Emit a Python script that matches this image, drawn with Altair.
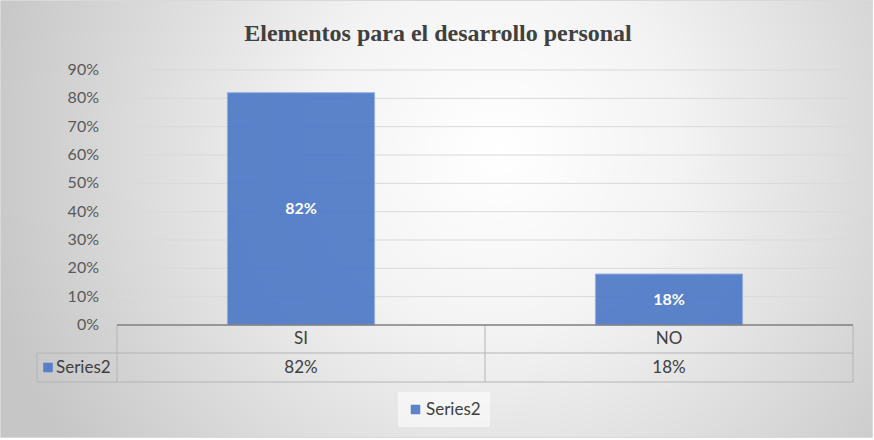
import altair as alt
import pandas as pd

# Datos del gráfico
categorias = ["SI", "NO"]
porcentajes = [0.82, 0.18]
serie = "Series2"
marcas_y = [0.0, 0.1, 0.2, 0.3, 0.4, 0.5, 0.6, 0.7, 0.8, 0.9]

# Geometría general (área de trazado y márgenes)
TOTAL_W, TOTAL_H = 874, 440
IZQ, ARR, DER, ABA = 117, 70, 21, 115
ANCHO = TOTAL_W - IZQ - DER
ALTO = TOTAL_H - ARR - ABA
FILA1 = 283   # línea entre fila de categorías y fila de valores
FILA2 = 312   # borde inferior de la tabla de datos
COL0 = -80    # borde izquierdo de la tabla de datos

AZUL = "#4a77c6"
FUENTE = "Lato"
GRIS_TXT = "#404040"
GRIS_EJE = "#595959"
GRIS_TABLA = "#b4b4b4"
TAM = 17

datos = pd.DataFrame({
    "categoria": categorias,
    "valor": porcentajes,
    "serie": [serie] * len(categorias),
})
rejilla = pd.DataFrame({"marca": marcas_y})
una_fila = pd.DataFrame({"serie": [serie]})

escala_y = alt.Scale(domain=[0, 0.9], nice=False)
escala_x = alt.Scale(domain=categorias, paddingInner=0, paddingOuter=0)
x_cat = alt.X("categoria:N", sort=categorias, scale=escala_x, axis=None)

# Fondo con degradado radial
fondo = alt.Chart(una_fila).mark_rect(
    fill=alt.RadialGradient(
        gradient="radial",
        stops=[
            alt.GradientStop(offset=0, color="#ffffff"),
            alt.GradientStop(offset=0.35, color="#f3f3f3"),
            alt.GradientStop(offset=1, color="#c6c6c6"),
        ],
        x1=0.57, y1=0.42, r1=0,
        x2=0.57, y2=0.42, r2=0.6,
    ),
    stroke="#d9d9d9",
    strokeWidth=1,
).encode(
    x=alt.value(-IZQ + 0.5),
    x2=alt.value(TOTAL_W - IZQ - 1.5),
    y=alt.value(-ARR + 0.5),
    y2=alt.value(TOTAL_H - ARR - 2.5),
)

# Líneas horizontales de la cuadrícula
lineas = alt.Chart(rejilla).transform_filter("datum.marca > 0").mark_rule(
    color="#d9d9d9", strokeWidth=1
).encode(y=alt.Y("marca:Q", scale=escala_y, axis=None))

# Etiquetas del eje vertical
etiquetas_y = alt.Chart(rejilla).mark_text(
    font=FUENTE, fontSize=16, color=GRIS_EJE, align="right", baseline="middle"
).encode(
    y=alt.Y("marca:Q", scale=escala_y, axis=None),
    x=alt.value(-18),
    text=alt.Text("marca:Q", format=".0%"),
)

# Barras
barras = alt.Chart(datos).mark_bar(
    width=alt.RelativeBandSize(0.4),
    opacity=0.9,
    stroke="#8eaadb",
    strokeWidth=1,
).encode(
    x=x_cat,
    y=alt.Y("valor:Q", scale=escala_y, axis=None),
    color=alt.Color(
        "serie:N",
        scale=alt.Scale(range=[AZUL]),
        legend=alt.Legend(
            title=None,
            orient="none",
            legendX=281,
            legendY=322,
            direction="horizontal",
            symbolType="square",
            symbolSize=90,
            symbolStrokeWidth=0,
            symbolOpacity=0.9,
            labelFont=FUENTE,
            labelFontSize=TAM,
            labelColor=GRIS_TXT,
            labelOffset=2,
            fillColor="rgba(255,255,255,0.55)",
            padding=9,
        ),
    ),
)

# Etiquetas de valor dentro de las barras
etiquetas = alt.Chart(datos).transform_calculate(
    medio="datum.valor / 2"
).mark_text(
    font=FUENTE, fontSize=16, fontWeight="bold", color="white"
).encode(
    x=x_cat,
    y=alt.Y("medio:Q", scale=escala_y, axis=None),
    text=alt.Text("valor:Q", format=".0%"),
)

# Tabla de datos bajo el eje: categorías y valores
fila_categorias = alt.Chart(datos).mark_text(
    font=FUENTE, fontSize=TAM, color=GRIS_TXT, baseline="middle"
).encode(
    x=x_cat,
    y=alt.value((ALTO + FILA1) / 2),
    text="categoria:N",
)

fila_valores = alt.Chart(datos).mark_text(
    font=FUENTE, fontSize=TAM, color=GRIS_TXT, baseline="middle"
).encode(
    x=x_cat,
    y=alt.value((FILA1 + FILA2) / 2),
    text=alt.Text("valor:Q", format=".0%"),
)

# Bordes de la tabla
linea_fila1 = alt.Chart(una_fila).mark_rule(color=GRIS_TABLA, strokeWidth=1).encode(
    x=alt.value(COL0), x2=alt.value(ANCHO), y=alt.value(FILA1)
)
linea_fila2 = alt.Chart(una_fila).mark_rule(color=GRIS_TABLA, strokeWidth=1).encode(
    x=alt.value(COL0), x2=alt.value(ANCHO), y=alt.value(FILA2)
)
linea_col0 = alt.Chart(una_fila).mark_rule(color=GRIS_TABLA, strokeWidth=1).encode(
    x=alt.value(COL0), y=alt.value(FILA1), y2=alt.value(FILA2)
)
linea_col1 = alt.Chart(una_fila).mark_rule(color=GRIS_TABLA, strokeWidth=1).encode(
    x=alt.value(0), y=alt.value(ALTO), y2=alt.value(FILA2)
)
# Separadores al final de cada categoría
separadores = alt.Chart(datos).mark_rule(color=GRIS_TABLA, strokeWidth=1).encode(
    x=alt.X("categoria:N", sort=categorias, scale=escala_x, axis=None, bandPosition=1),
    y=alt.value(ALTO),
    y2=alt.value(FILA2),
)

# Línea base del eje horizontal
linea_base = alt.Chart(una_fila).mark_rule(color="#7f7f7f", strokeWidth=1.5).encode(
    x=alt.value(0), x2=alt.value(ANCHO), y=alt.value(ALTO)
)

clave_serie = alt.Chart(una_fila).mark_point(
    shape="square", filled=True, size=90, color=AZUL, opacity=0.9
).encode(x=alt.value(COL0 + 11), y=alt.value((FILA1 + FILA2) / 2))

nombre_serie = alt.Chart(una_fila).mark_text(
    font=FUENTE, fontSize=TAM, color=GRIS_TXT, align="left", baseline="middle"
).encode(
    x=alt.value(COL0 + 19),
    y=alt.value((FILA1 + FILA2) / 2),
    text="serie:N",
)

chart = alt.layer(
    fondo, lineas, etiquetas_y, barras, etiquetas,
    fila_categorias, fila_valores,
    linea_fila1, linea_fila2, linea_col0, linea_col1, separadores, linea_base,
    clave_serie, nombre_serie,
).properties(
    width=ANCHO,
    height=ALTO,
    autosize=alt.AutoSizeParams(type="none"),
    padding={"left": IZQ, "top": ARR, "right": DER, "bottom": ABA},
    title=alt.Title(
        "Elementos para el desarrollo personal",
        font="Liberation Serif",
        fontSize=24,
        fontWeight="bold",
        color=GRIS_TXT,
        anchor="middle",
        dx=-47,
        dy=46,
        offset=0,
    ),
).configure(
    background="#ffffff"
).configure_view(stroke=None)

chart.save("out.html", embed_options={"renderer": "svg", "actions": False})
